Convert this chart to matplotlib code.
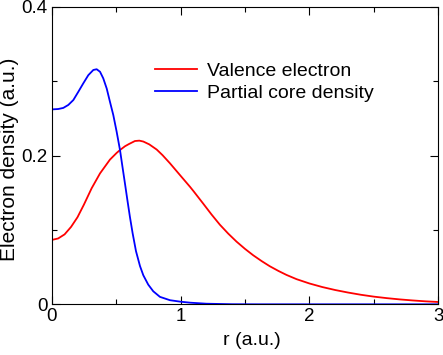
import matplotlib
matplotlib.use("Agg")
import matplotlib.pyplot as plt
from matplotlib.ticker import MultipleLocator, FixedLocator

plt.rcParams['font.family'] = ['Liberation Sans', 'DejaVu Sans']

r_val = [0.0, 0.05, 0.1, 0.15, 0.2, 0.25, 0.31, 0.375, 0.452, 0.504, 0.53, 0.569, 0.6,
         0.646, 0.68, 0.711, 0.757, 0.815, 0.86, 0.918, 0.995, 1.073, 1.1, 1.175, 1.24,
         1.305, 1.37, 1.434, 1.5, 1.563, 1.63, 1.692, 1.76, 1.822, 1.9, 2.0, 2.1, 2.2,
         2.3, 2.4, 2.5, 2.6, 2.7, 2.8, 2.9, 3.0]
valence = [0.0865, 0.0885, 0.094, 0.104, 0.117, 0.134, 0.156, 0.176, 0.1945, 0.2035, 0.2074,
           0.2125, 0.2155, 0.2195, 0.2200, 0.2188, 0.2150, 0.2080, 0.2005, 0.1895, 0.1738,
           0.158, 0.1522, 0.1355, 0.1208, 0.1070, 0.0950, 0.0843, 0.0745, 0.0660, 0.0580,
           0.0512, 0.0448, 0.0395, 0.0338, 0.0280, 0.0232, 0.0192, 0.0158, 0.0128, 0.0103,
           0.0083, 0.0066, 0.0052, 0.0040, 0.0031]

r_core = [0.0, 0.05, 0.09, 0.129, 0.168, 0.207, 0.245, 0.284, 0.323, 0.349, 0.375, 0.40,
          0.427, 0.452, 0.478, 0.504, 0.53, 0.548, 0.569, 0.587, 0.607, 0.628, 0.654,
          0.685, 0.711, 0.749, 0.788, 0.84, 0.918, 1.0, 1.073, 1.2, 1.4, 1.6, 3.0]
core = [0.262, 0.2625, 0.264, 0.268, 0.2746, 0.2858, 0.297, 0.308, 0.315, 0.316, 0.3126,
        0.3038, 0.290, 0.2723, 0.2544, 0.232, 0.2074, 0.1862, 0.1618, 0.1405, 0.1175,
        0.0955, 0.0715, 0.0515, 0.0390, 0.0265, 0.0175, 0.0100, 0.0055, 0.0035, 0.0022,
        0.0008, 0.0001, 0.0, 0.0]

labels = ["Valence electron", "Partial core density"]

fig = plt.figure(figsize=(4.43, 3.55), dpi=100)
ax = fig.add_axes([0.1167, 0.1428, 0.9894 - 0.1167, 0.981 - 0.1428])

ax.plot(r_val, valence, color='#ff0000', lw=1.3, label=labels[0])
ax.plot(r_core, core, color='#0000ff', lw=1.3, label=labels[1])

ax.set_xlim(0, 3)
ax.set_ylim(0, 0.4)
ax.xaxis.set_major_locator(FixedLocator([0, 1, 2, 3]))
ax.xaxis.set_minor_locator(MultipleLocator(0.5))
ax.yaxis.set_major_locator(FixedLocator([0, 0.2, 0.4]))
ax.yaxis.set_minor_locator(MultipleLocator(0.1))
ax.set_xticklabels(["0", "1", "2", "3"])
ax.set_yticklabels(["0", "0.2", "0.4"])
ax.tick_params(which='both', direction='in', top=True, right=True, width=0.8, labelsize=13.5)
ax.tick_params(which='major', length=6, pad=3)
ax.tick_params(which='minor', length=3.5)
for s in ax.spines.values():
    s.set_linewidth(0.8)

ax.set_xlabel("r (a.u.)", fontsize=14)
ax.set_ylabel("Electron density (a.u.)", fontsize=15)
ax.xaxis.set_label_coords(0.5165, -0.0944)
ax.yaxis.set_label_coords(-0.0846, 0.4876)

ax.legend(loc='upper left', bbox_to_anchor=(0.267, 0.812), frameon=False, fontsize=14,
          borderpad=0, borderaxespad=0, handlelength=2.16, handletextpad=0.54, labelspacing=0.2)

fig.savefig("out.png", dpi=100)
